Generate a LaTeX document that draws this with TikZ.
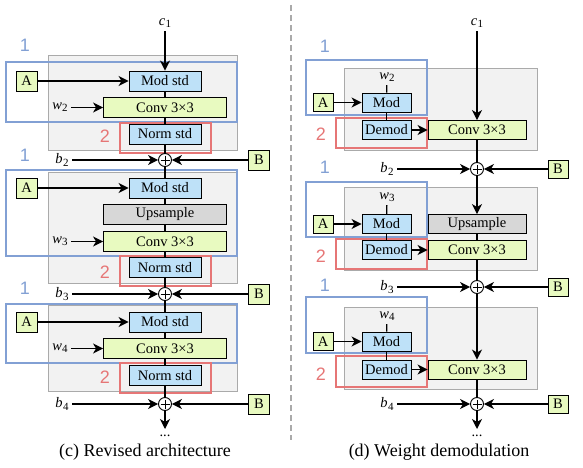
\documentclass[tikz,border=0pt]{standalone}
\usepackage{fontspec}
\setmainfont{Liberation Serif}
\newfontfamily\tagfont{Liberation Sans}
\usetikzlibrary{arrows.meta}

\definecolor{modblue}{RGB}{190,225,248}
\definecolor{convgreen}{RGB}{232,250,192}
\definecolor{upgray}{RGB}{215,215,215}
\definecolor{stagebg}{RGB}{242,242,242}
\definecolor{stageframe}{RGB}{170,170,170}
\definecolor{grpblue}{RGB}{130,160,212}
\definecolor{grpred}{RGB}{230,118,118}

\newcommand{\vsub}[2]{\textit{#1}\kern0.3pt\raisebox{-0.35ex}{\fontsize{11}{11}\selectfont #2}}

\begin{document}
\begin{tikzpicture}[x=1pt,y=-1pt,
  >={Stealth[length=10pt,width=10pt,inset=3pt]},
  every node/.style={font=\fontsize{14.5}{16}\selectfont},
  blk/.style={draw,line width=0.9pt,inner sep=0pt,minimum height=20pt},
  bluebox/.style={blk,fill=modblue,minimum width=72pt},
  greenbox/.style={blk,fill=convgreen,minimum width=123pt},
  graybox/.style={blk,fill=upgray,minimum width=123pt},
  rmod/.style={blk,fill=modblue,minimum width=49pt,minimum height=19pt},
  rconv/.style={blk,fill=convgreen,minimum width=98pt,minimum height=19pt},
  rup/.style={blk,fill=upgray,minimum width=98pt,minimum height=19pt},
  inbox/.style={blk,fill=convgreen,minimum width=21pt},
  rinbox/.style={blk,fill=convgreen,minimum width=20pt,minimum height=18pt},
  sum/.style={circle,draw,fill=white,line width=0.9pt,minimum size=13pt,inner sep=0pt,
    path picture={\draw[line width=0.7pt] ([yshift=-2pt]path picture bounding box.north) -- ([yshift=2pt]path picture bounding box.south)
      ([xshift=2pt]path picture bounding box.west) -- ([xshift=-2pt]path picture bounding box.east);}},
  stage/.style={draw=stageframe,fill=stagebg,line width=0.8pt},
  grp1/.style={draw=grpblue,line width=1.6pt},
  grp2/.style={draw=grpred,line width=1.6pt},
  tag1/.style={text=grpblue,font=\tagfont\fontsize{18}{18}\selectfont},
  tag2/.style={text=grpred,font=\tagfont\fontsize{18}{18}\selectfont},
  conn/.style={line width=1.3pt}
]
\useasboundingbox (0,0) rectangle (583,468);

% (c) revised architecture
\draw[stage] (48,55) rectangle (237,150);
\draw[stage] (48,172) rectangle (237,283);
\draw[stage] (48,305) rectangle (237,391);
\draw[grp1] (6,62) rectangle (237,122);
\draw[grp1] (6,170) rectangle (237,256);
\draw[grp1] (6,304) rectangle (237,363);
\draw[grp2] (120,123) rectangle (211,153);
\draw[grp2] (120,256) rectangle (211,286);
\draw[grp2] (120,363) rectangle (211,393);
\node[tag1] (t1a) at (25,45) {1};
\node[tag1] (t1b) at (25,155) {1};
\node[tag1] (t1c) at (25,288) {1};
\node[tag2] (t2a) at (105,136) {2};
\node[tag2] (t2b) at (105,272) {2};
\node[tag2] (t2c) at (105,377) {2};

\node (c1) at (165,23) {\vsub{c}{1}};
\node[bluebox] (m1) at (165,81) {Mod std};
\node[greenbox] (cv1) at (165,107.5) {Conv 3×3};
\node[bluebox] (n1) at (165,134) {Norm std};
\node[sum] (s1) at (165,160) {};
\node[inbox] (a1) at (26.5,81) {A};
\node (w2) at (60,107.5) {\vsub{w}{2}};
\node (b2) at (62,160) {\vsub{b}{2}};
\node[inbox] (bb1) at (259,160) {B};

\node[bluebox] (m2) at (165,188) {Mod std};
\node[graybox] (up2) at (165,214.5) {Upsample};
\node[greenbox] (cv2) at (165,241.5) {Conv 3×3};
\node[bluebox] (n2) at (165,267.5) {Norm std};
\node[sum] (s2) at (165,294) {};
\node[inbox] (a2) at (26.5,188) {A};
\node (w3) at (60,241.5) {\vsub{w}{3}};
\node (b3) at (62,294) {\vsub{b}{3}};
\node[inbox] (bb2) at (259,294) {B};

\node[bluebox] (m3) at (165,322) {Mod std};
\node[greenbox] (cv3) at (165,348.5) {Conv 3×3};
\node[bluebox] (n3) at (165,375.5) {Norm std};
\node[sum] (s3) at (165,404) {};
\node[inbox] (a3) at (26.5,322) {A};
\node (w4) at (60,348.5) {\vsub{w}{4}};
\node (b4) at (62,404) {\vsub{b}{4}};
\node[inbox] (bb3) at (259,404) {B};
\coordinate (endc) at (165,429);
\node[anchor=base] (dotc) at (165,436) {...};

\draw[conn,->] (c1) -- (m1);
\draw[conn] (m1) -- (cv1) (cv1) -- (n1) (n1) -- (s1) (s1) -- (m2);
\draw[conn] (m2) -- (up2) (up2) -- (cv2) (cv2) -- (n2) (n2) -- (s2) (s2) -- (m3);
\draw[conn] (m3) -- (cv3) (cv3) -- (n3) (n3) -- (s3);
\draw[conn,->] (s3) -- (endc);
\draw[conn,->] (a1) -- (m1);
\draw[conn,->] (a2) -- (m2);
\draw[conn,->] (a3) -- (m3);
\draw[conn,->] (w2) -- (cv1);
\draw[conn,->] (w3) -- (cv2);
\draw[conn,->] (w4) -- (cv3);
\draw[conn,->] (b2) -- (s1);
\draw[conn,->] (b3) -- (s2);
\draw[conn,->] (b4) -- (s3);
\draw[conn,->] (bb1) -- (s1);
\draw[conn,->] (bb2) -- (s2);
\draw[conn,->] (bb3) -- (s3);

\node (capc) at (145,452) {\fontsize{18}{20}\selectfont (c) Revised architecture};

% separator
\draw[stageframe,line width=2pt,dash pattern=on 6pt off 4pt] (291,5) -- (291,440);

% (d) weight demodulation
\draw[stage] (344,68) rectangle (537,150);
\draw[stage] (344,187) rectangle (537,270);
\draw[stage] (344,307) rectangle (537,389);
\draw[grp1] (306,60) rectangle (427,115);
\draw[grp1] (306,182) rectangle (427,237);
\draw[grp1] (306,297) rectangle (427,353);
\draw[grp2] (336,118) rectangle (427,148);
\draw[grp2] (336,239) rectangle (427,269);
\draw[grp2] (336,356) rectangle (427,387);
\node[tag1] (u1a) at (325,46) {1};
\node[tag1] (u1b) at (325,167) {1};
\node[tag1] (u1c) at (325,285) {1};
\node[tag2] (u2a) at (321,134) {2};
\node[tag2] (u2b) at (321,256) {2};
\node[tag2] (u2c) at (321,374) {2};

\node (d1) at (477,23) {\vsub{c}{1}};
\node (dw2) at (387,77) {\vsub{w}{2}};
\node[rinbox] (da1) at (323,102.5) {A};
\node[rmod] (dm1) at (386.5,102.5) {Mod};
\node[rmod] (dd1) at (386.5,130) {Demod};
\node[rconv] (dc1) at (477,130) {Conv 3×3};
\node[sum] (ds1) at (477,169) {};
\node (db2) at (387,169) {\vsub{b}{2}};
\node[rinbox] (dB1) at (558,169) {B};

\node (dw3) at (387,197) {\vsub{w}{3}};
\node[rinbox] (da2) at (323,224) {A};
\node[rmod] (dm2) at (386.5,224) {Mod};
\node[rup] (du2) at (477,224) {Upsample};
\node[rmod] (dd2) at (386.5,250) {Demod};
\node[rconv] (dc2) at (477,250) {Conv 3×3};
\node[sum] (ds2) at (477,287) {};
\node (db3) at (387,287) {\vsub{b}{3}};
\node[rinbox] (dB2) at (558,287) {B};

\node (dw4) at (387,316) {\vsub{w}{4}};
\node[rinbox] (da3) at (323,341.5) {A};
\node[rmod] (dm3) at (386.5,341.5) {Mod};
\node[rmod] (dd3) at (386.5,369.5) {Demod};
\node[rconv] (dc3) at (477,369.5) {Conv 3×3};
\node[sum] (ds3) at (477,404) {};
\node (db4) at (387,404) {\vsub{b}{4}};
\node[rinbox] (dB3) at (558,404) {B};
\coordinate (endd) at (477,429);
\node[anchor=base] (dotd) at (477,436) {...};

\draw[conn,->] (d1) -- (dc1);
\draw[conn] (dc1) -- (ds1);
\draw[conn,->] (ds1) -- (du2);
\draw[conn] (du2) -- (dc2) (dc2) -- (ds2);
\draw[conn,->] (ds2) -- (dc3);
\draw[conn] (dc3) -- (ds3);
\draw[conn,->] (ds3) -- (endd);
\draw[conn] (dw2) -- (dm1) (dw3) -- (dm2) (dw4) -- (dm3);
\draw[line width=0.8pt] (dm1) -- (dd1) (dm2) -- (dd2) (dm3) -- (dd3);
\draw[conn,->] (da1) -- (dm1);
\draw[conn,->] (da2) -- (dm2);
\draw[conn,->] (da3) -- (dm3);
\draw[conn,->] (dd1) -- (dc1);
\draw[conn,->] (dd2) -- (dc2);
\draw[conn,->] (dd3) -- (dc3);
\draw[conn,->] (db2) -- (ds1);
\draw[conn,->] (db3) -- (ds2);
\draw[conn,->] (db4) -- (ds3);
\draw[conn,->] (dB1) -- (ds1);
\draw[conn,->] (dB2) -- (ds2);
\draw[conn,->] (dB3) -- (ds3);

\node (capd) at (439,452) {\fontsize{18}{20}\selectfont (d) Weight demodulation};
\end{tikzpicture}
\end{document}
